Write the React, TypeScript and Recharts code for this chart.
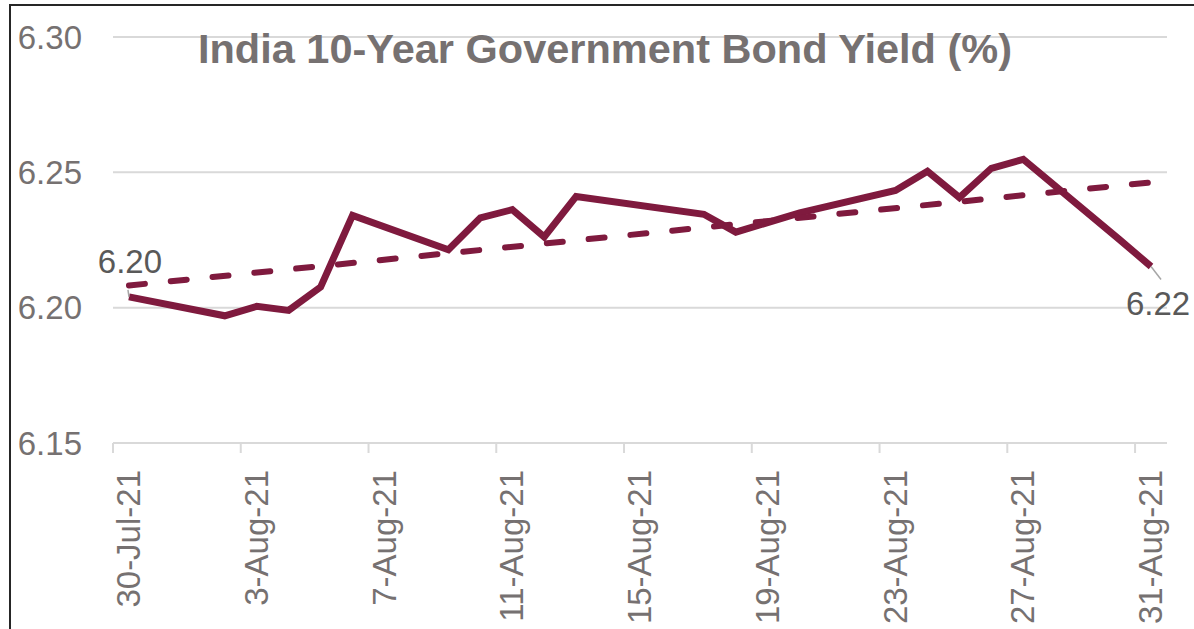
import { LineChart, Line, XAxis, YAxis, CartesianGrid } from 'recharts';

const FONT = '"Liberation Sans", Arial, sans-serif';
const MAROON = '#7F1A3E';
const GREY_TEXT = '#767171';
const GRID = '#D9D9D9';

// trading days and 10Y yields (%)
const dates = [
    '30-Jul-21', '2-Aug-21', '3-Aug-21', '4-Aug-21', '5-Aug-21', '6-Aug-21',
    '9-Aug-21', '10-Aug-21', '11-Aug-21', '12-Aug-21', '13-Aug-21',
    '17-Aug-21', '18-Aug-21', '20-Aug-21', '23-Aug-21', '24-Aug-21',
    '25-Aug-21', '26-Aug-21', '27-Aug-21', '30-Aug-21', '31-Aug-21',
];
const yields = [
    6.204, 6.197, 6.2005, 6.199, 6.2076, 6.2341,
    6.2214, 6.2332, 6.2362, 6.2261, 6.2411,
    6.2345, 6.2279, 6.235, 6.2433, 6.2504,
    6.2407, 6.2515, 6.2548, 6.2253, 6.2152,
];
// linear trend, read at the two ends
const trendStart = 6.2082;
const trendEnd = 6.2463;

const tickLabels = [
    '30-Jul-21', '3-Aug-21', '7-Aug-21', '11-Aug-21', '15-Aug-21',
    '19-Aug-21', '23-Aug-21', '27-Aug-21', '31-Aug-21',
];
const yTicks = [6.15, 6.2, 6.25, 6.3];

const MONTHS: Record<string, number> = { Jul: 6, Aug: 7, Sep: 8 };
const parseDay = (s: string) => {
    const [d, m, y] = s.split('-');
    return Date.UTC(2000 + Number(y), MONTHS[m], Number(d)) / 86400000;
};
const day0 = parseDay(dates[0]);

// Excel date axis: each point sits in the middle of its day
const data = dates.map((d, i) => ({
    x: parseDay(d) - day0 + 0.5,
    yield: yields[i],
    trend: i === 0 ? trendStart : i === dates.length - 1 ? trendEnd : null,
}));
const tickPos = tickLabels.map((t) => parseDay(t) - day0);
const labelFor = (v: number) => tickLabels[tickPos.indexOf(v)] ?? '';

const XTick = (props: any) => {
    const { x, y, payload } = props;
    return (
        <text
            x={x}
            y={y}
            transform={`rotate(-90, ${x}, ${y})`}
            textAnchor="end"
            dy={27}
            fill={GREY_TEXT}
            fontSize={33}
            fontFamily={FONT}
        >
            {labelFor(payload.value)}
        </text>
    );
};

const EndLabel = (props: any) => {
    const { x, y, index } = props;
    if (index === 0) {
        return (
            <g>
                <line x1={x} y1={y} x2={x - 1} y2={y - 7} stroke="#A6A6A6" strokeWidth={1.5} />
                <text x={x + 1} y={y - 24} textAnchor="middle" fill="#595959" fontSize={33} fontFamily={FONT}>
                    {yields[0].toFixed(2)}
                </text>
            </g>
        );
    }
    if (index === dates.length - 1) {
        return (
            <g>
                <line x1={x} y1={y} x2={x + 10} y2={y + 13} stroke="#A6A6A6" strokeWidth={1.5} />
                <text x={x + 7} y={y + 48} textAnchor="middle" fill="#595959" fontSize={33} fontFamily={FONT}>
                    {yields[yields.length - 1].toFixed(2)}
                </text>
            </g>
        );
    }
    return <g />;
};

export default function App() {
    return (
        <div style={{ position: 'fixed', inset: 0, overflow: 'hidden', background: '#fff', fontFamily: FONT }}>
            <div
                style={{
                    position: 'absolute', left: 9, top: 4, width: 1400, height: 900,
                    borderTop: '2px solid #262626', borderLeft: '2px solid #262626',
                }}
            />
            <div style={{ position: 'absolute', left: 0, top: 0 }}>
                <LineChart
                    width={1194}
                    height={629}
                    data={data}
                    margin={{ top: 37, right: 27, bottom: 36, left: 13 }}
                >
                    <CartesianGrid vertical={false} stroke={GRID} strokeWidth={2} />
                    <XAxis
                        dataKey="x"
                        type="number"
                        domain={[0, 33]}
                        ticks={tickPos}
                        interval={0}
                        height={150}
                        stroke={GRID}
                        strokeWidth={2}
                        tickSize={10}
                        tickMargin={17}
                        tick={<XTick />}
                    />
                    <YAxis
                        domain={[6.15, 6.3]}
                        ticks={yTicks}
                        width={100}
                        axisLine={false}
                        tickLine={false}
                        tickSize={0}
                        tickMargin={31}
                        tickFormatter={(v: number) => v.toFixed(2)}
                        tick={{ fill: GREY_TEXT, fontSize: 33, fontFamily: FONT }}
                    />
                    <Line
                        type="linear"
                        dataKey="yield"
                        stroke={MAROON}
                        strokeWidth={7}
                        dot={false}
                        isAnimationActive={false}
                        label={<EndLabel />}
                    />
                    <Line
                        type="linear"
                        dataKey="trend"
                        stroke={MAROON}
                        strokeWidth={6}
                        strokeDasharray="16 26"
                        strokeLinecap="round"
                        connectNulls
                        dot={false}
                        isAnimationActive={false}
                    />
                </LineChart>
            </div>
            <div
                style={{
                    position: 'absolute', left: 0, width: 1210, top: 29, lineHeight: '40px',
                    textAlign: 'center', fontSize: 41.5, fontWeight: 'bold', color: GREY_TEXT,
                }}
            >
                India 10-Year Government Bond Yield (%)
            </div>
        </div>
    );
}
